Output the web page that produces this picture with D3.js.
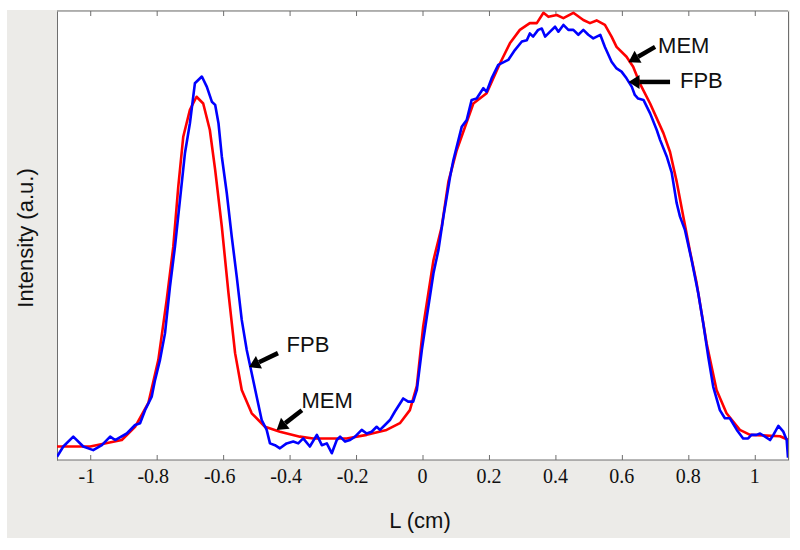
<!DOCTYPE html>
<html>
<head>
<meta charset="utf-8">
<script src="https://cdn.jsdelivr.net/npm/d3@7"></script>
<style>
  html, body { margin: 0; padding: 0; background: #ffffff; }
  svg { display: block; }
</style>
</head>
<body>
<svg id="chart" width="800" height="550"></svg>
<script>
// ---------- data ----------
const xTicks = [-1, -0.8, -0.6, -0.4, -0.2, 0, 0.2, 0.4, 0.6, 0.8, 1];
const xTickLabels = ["-1", "-0.8", "-0.6", "-0.4", "-0.2", "0", "0.2", "0.4", "0.6", "0.8", "1"];

// MEM (red, smooth)
const memL = [-1.1, -1.0, -0.905, -0.865, -0.825, -0.795, -0.77, -0.75, -0.735, -0.72, -0.70, -0.68, -0.66, -0.64, -0.624, -0.604, -0.584, -0.564, -0.544, -0.514, -0.474, -0.429, -0.369, -0.329, -0.228, -0.168, -0.108, -0.068, -0.038, -0.017, 0.002, 0.033, 0.058, 0.078, 0.103, 0.153, 0.193, 0.233, 0.263, 0.293, 0.323, 0.344, 0.364, 0.379, 0.404, 0.424, 0.454, 0.484, 0.504, 0.524, 0.549, 0.569, 0.584, 0.614, 0.634, 0.654, 0.685, 0.725, 0.745, 0.765, 0.785, 0.805, 0.825, 0.855, 0.885, 0.915, 0.955, 0.986, 1.076, 1.10];
const memV = [3.0, 3.0, 4.45, 7.4, 12.7, 22.3, 35.6, 47.5, 60.9, 72.0, 78.0, 80.9, 79.4, 73.5, 64.6, 52.0, 37.2, 23.8, 15.6, 10.4, 7.4, 6.3, 5.2, 4.8, 4.8, 5.6, 6.7, 8.2, 11.1, 16.5, 29.7, 44.5, 52.0, 62.0, 69.0, 79.4, 81.7, 88.3, 92.8, 95.8, 97.3, 97.3, 99.6, 98.7, 99.1, 98.4, 99.6, 98.0, 97.3, 97.9, 96.9, 94.3, 92.0, 89.8, 87.6, 83.9, 79.4, 72.8, 68.6, 62.0, 54.2, 46.5, 39.4, 26.0, 15.6, 10.4, 6.7, 5.6, 5.3, 4.5];

// FPB (blue, noisy)
const fpbL = [-1.1, -1.081, -1.051, -1.021, -0.991, -0.965, -0.94, -0.925, -0.89, -0.865, -0.85, -0.835, -0.815, -0.805, -0.79, -0.775, -0.76, -0.745, -0.73, -0.715, -0.70, -0.685, -0.664, -0.649, -0.634, -0.624, -0.614, -0.604, -0.589, -0.574, -0.559, -0.544, -0.529, -0.514, -0.499, -0.484, -0.469, -0.459, -0.444, -0.429, -0.409, -0.389, -0.374, -0.359, -0.339, -0.318, -0.303, -0.288, -0.273, -0.258, -0.248, -0.233, -0.218, -0.203, -0.183, -0.168, -0.153, -0.138, -0.128, -0.113, -0.098, -0.083, -0.058, -0.043, -0.028, -0.017, -0.002, 0.013, 0.033, 0.048, 0.063, 0.073, 0.083, 0.093, 0.118, 0.133, 0.148, 0.163, 0.183, 0.193, 0.208, 0.228, 0.258, 0.278, 0.299, 0.314, 0.323, 0.333, 0.348, 0.359, 0.369, 0.384, 0.399, 0.409, 0.424, 0.439, 0.454, 0.469, 0.484, 0.499, 0.514, 0.535, 0.549, 0.569, 0.584, 0.599, 0.614, 0.63, 0.639, 0.649, 0.665, 0.685, 0.705, 0.715, 0.735, 0.75, 0.765, 0.775, 0.79, 0.81, 0.83, 0.845, 0.86, 0.875, 0.895, 0.91, 0.925, 0.946, 0.965, 0.98, 0.99, 1.005, 1.016, 1.031, 1.046, 1.056, 1.071, 1.086, 1.096, 1.10];
const fpbV = [0.7, 3.0, 5.2, 3.0, 2.2, 3.3, 5.2, 4.45, 5.9, 7.8, 8.2, 11.1, 14.1, 17.8, 22.3, 28.2, 38.6, 47.5, 57.9, 68.3, 75.0, 83.9, 85.4, 83.1, 79.8, 79.1, 75.0, 67.6, 59.4, 49.7, 40.8, 31.2, 24.5, 19.3, 14.1, 8.9, 6.7, 3.7, 3.3, 2.6, 3.7, 4.1, 3.7, 4.8, 3.0, 5.6, 3.3, 3.7, 1.5, 4.45, 5.2, 4.1, 4.45, 5.2, 6.7, 5.9, 6.3, 7.4, 6.7, 7.8, 8.9, 10.8, 13.7, 13.0, 13.0, 15.6, 24.5, 31.9, 41.6, 46.8, 54.2, 58.6, 63.1, 66.8, 74.2, 75.7, 80.2, 80.5, 82.8, 82.0, 85.0, 88.0, 89.1, 91.3, 93.2, 93.5, 95.0, 94.3, 95.8, 96.1, 94.3, 95.4, 96.5, 95.4, 96.9, 95.8, 95.8, 94.7, 95.8, 94.7, 93.9, 94.7, 92.0, 88.7, 87.2, 86.5, 85.0, 83.1, 81.3, 80.5, 80.2, 77.2, 73.5, 71.3, 67.6, 64.0, 57.2, 54.2, 51.2, 44.5, 37.1, 30.4, 23.0, 16.3, 11.1, 9.3, 9.3, 6.7, 4.8, 4.8, 5.6, 5.6, 5.9, 5.2, 4.45, 5.6, 7.6, 6.3, 4.45, 0.5];

// Annotations (data coordinates)
const annLabels = ["MEM", "FPB", "FPB", "MEM"];
const annTextL = [0.709, 0.775, -0.409, -0.364];
const annTextV = [90.6, 82.85, 24.1, 11.6];
const annTailL = [0.700, 0.745, -0.435, -0.363];
const annTailV = [92.0, 84.2, 23.8, 11.1];
const annTipL = [0.620, 0.620, -0.522, -0.439];
const annTipV = [88.6, 84.2, 20.7, 6.7];

// ---------- layout ----------
const svg = d3.select("#chart");
const plot = { left: 57, right: 788, top: 11, bottom: 460 };

// grey figure panel
svg.append("rect").attr("x", 7).attr("y", 10).attr("width", 783).attr("height", 528).attr("fill", "#ecebe8");
svg.append("rect").attr("x", plot.left).attr("y", plot.top)
  .attr("width", plot.right - plot.left).attr("height", plot.bottom - plot.top).attr("fill", "#ffffff");

const x = d3.scaleLinear().domain([-1.1, 1.1]).range([plot.left, plot.right]);
const y = d3.scaleLinear().domain([0, 100]).range([plot.bottom, plot.top]);

svg.append("defs").append("clipPath").attr("id", "clip")
  .append("rect").attr("x", plot.left).attr("y", plot.top)
  .attr("width", plot.right - plot.left).attr("height", plot.bottom - plot.top);

// bottom axis
const axisColor = "#6e6e6e";
const bottomAxis = d3.axisBottom(x).tickValues(xTicks).tickSize(-5).tickFormat("");
const gB = svg.append("g").attr("transform", `translate(0,${plot.bottom})`).call(bottomAxis);
gB.select(".domain").attr("stroke", axisColor).attr("d", `M${plot.left},0H${plot.right}`);
gB.selectAll(".tick line").attr("stroke", axisColor);

const topAxis = d3.axisTop(x).tickValues(xTicks).tickSize(-5).tickFormat("");
const gT = svg.append("g").attr("transform", `translate(0,${plot.top})`).call(topAxis);
gT.select(".domain").attr("stroke", axisColor).attr("d", `M${plot.left},0H${plot.right}`);
gT.selectAll(".tick line").attr("stroke", axisColor);

const leftAxis = d3.axisLeft(y).tickValues([]).tickSize(0);
const gL = svg.append("g").attr("transform", `translate(${plot.left},0)`).call(leftAxis);
gL.select(".domain").attr("stroke", axisColor);
const gR = svg.append("g").attr("transform", `translate(${plot.right},0)`).call(d3.axisRight(y).tickValues([]).tickSize(0));
gR.select(".domain").attr("stroke", axisColor);

// tick labels (minus sign hangs left of the centred number)
svg.append("g").selectAll("text").data(xTicks).join("text")
  .attr("x", d => x(d))
  .attr("y", 483)
  .attr("dx", (d, i) => xTickLabels[i].startsWith("-") ? -3.4 : 0)
  .attr("text-anchor", "middle")
  .attr("font-family", "'Liberation Serif', 'Times New Roman', serif")
  .attr("font-size", 20)
  .attr("fill", "#111")
  .text((d, i) => xTickLabels[i]);

// axis titles
svg.append("text").attr("x", 420).attr("y", 528).attr("text-anchor", "middle")
  .attr("font-family", "'Liberation Sans', Arial, sans-serif").attr("font-size", 22).attr("fill", "#111")
  .text("L (cm)");
svg.append("text").attr("transform", "translate(33,238) rotate(-90)").attr("text-anchor", "middle")
  .attr("font-family", "'Liberation Sans', Arial, sans-serif").attr("font-size", 22).attr("fill", "#111")
  .text("Intensity (a.u.)");

// lines
const line = d3.line().x(d => x(d[0])).y(d => y(d[1]));
const memData = memL.map((l, i) => [l, memV[i]]);
const fpbData = fpbL.map((l, i) => [l, fpbV[i]]);
const gLines = svg.append("g").attr("clip-path", "url(#clip)");
gLines.append("path").datum(memData).attr("d", line).attr("fill", "none")
  .attr("stroke", "#ff0000").attr("stroke-width", 2.6).attr("stroke-linejoin", "round");
gLines.append("path").datum(fpbData).attr("d", line).attr("fill", "none")
  .attr("stroke", "#0000ff").attr("stroke-width", 2.6).attr("stroke-linejoin", "round");

// annotations
const gA = svg.append("g");
annLabels.forEach((lab, i) => {
  const x0 = x(annTailL[i]), y0 = y(annTailV[i]);
  const x1 = x(annTipL[i]), y1 = y(annTipV[i]);
  const ang = Math.atan2(y1 - y0, x1 - x0);
  const headLen = 11, headW = 7;
  const bx = x1 - headLen * Math.cos(ang), by = y1 - headLen * Math.sin(ang);
  gA.append("line").attr("x1", x0).attr("y1", y0).attr("x2", bx).attr("y2", by)
    .attr("stroke", "#000").attr("stroke-width", 4.5);
  const px = -Math.sin(ang), py = Math.cos(ang);
  gA.append("path")
    .attr("d", `M${x1},${y1}L${bx + px * headW},${by + py * headW}L${bx - px * headW},${by - py * headW}Z`)
    .attr("fill", "#000");
  gA.append("text").attr("x", x(annTextL[i])).attr("y", y(annTextV[i]))
    .attr("font-family", "'Liberation Sans', Arial, sans-serif").attr("font-size", 22).attr("fill", "#111")
    .text(lab);
});
</script>
</body>
</html>
